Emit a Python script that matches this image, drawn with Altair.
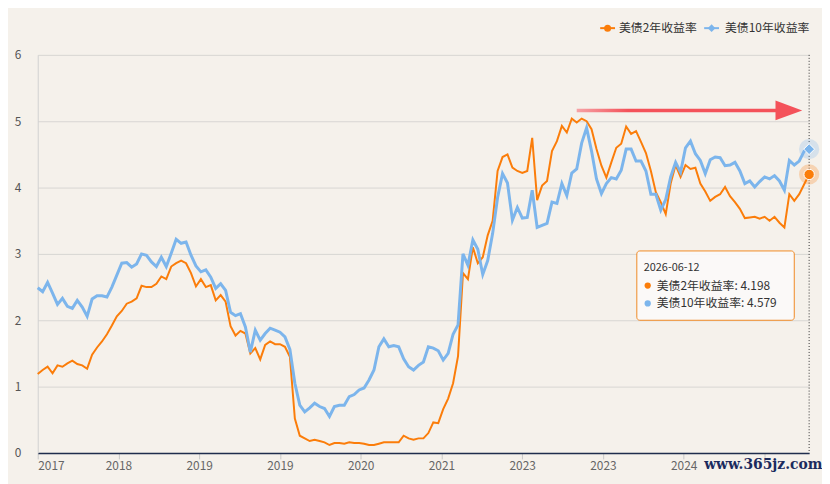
import altair as alt
import pandas as pd

# ---------------- data ----------------
x_labels = ["2017", "2018", "2019", "2019", "2020", "2021", "2023", "2023", "2024", ""]
series_names = ["美债2年收益率", "美债10年收益率"]
last_date = "2026-06-12"

us2y = [
    1.19, 1.25, 1.30, 1.20, 1.32, 1.30, 1.35, 1.39, 1.34, 1.32,
    1.27, 1.48, 1.59, 1.68, 1.79, 1.92, 2.06, 2.14, 2.25, 2.28,
    2.33, 2.52, 2.50, 2.50, 2.55, 2.66, 2.62, 2.81, 2.86, 2.90,
    2.86, 2.71, 2.51, 2.62, 2.50, 2.53, 2.30, 2.38, 2.28, 1.91,
    1.77, 1.84, 1.80, 1.50, 1.58, 1.41, 1.63, 1.68, 1.64, 1.64,
    1.60, 1.45, 0.52, 0.26, 0.22, 0.18, 0.20, 0.18, 0.16, 0.12,
    0.15, 0.15, 0.14, 0.16, 0.15, 0.15, 0.14, 0.12, 0.12, 0.14,
    0.16, 0.16, 0.16, 0.16, 0.26, 0.22, 0.20, 0.22, 0.22, 0.30,
    0.46, 0.45, 0.66, 0.82, 1.05, 1.46, 2.71, 2.62, 3.10, 2.86,
    2.95, 3.28, 3.50, 4.25, 4.46, 4.50, 4.30, 4.25, 4.22, 4.25,
    4.75, 3.81, 4.03, 4.10, 4.55, 4.70, 4.93, 4.83, 5.04, 4.98,
    5.04, 5.00, 4.88, 4.58, 4.33, 4.15, 4.38, 4.60, 4.66, 4.92,
    4.81, 4.85, 4.69, 4.52, 4.25, 3.93, 3.78, 3.60, 4.06, 4.34,
    4.16, 4.34, 4.28, 4.30, 4.06, 3.94, 3.80, 3.86, 3.90, 4.01,
    3.87, 3.78, 3.68, 3.54, 3.55, 3.56, 3.53, 3.56, 3.50, 3.56,
    3.47, 3.40, 3.90, 3.80, 3.90, 4.05, 4.198,
]

us10y = [
    2.49, 2.43, 2.57, 2.41, 2.24, 2.33, 2.21, 2.18, 2.30, 2.20,
    2.06, 2.32, 2.37, 2.37, 2.35, 2.50, 2.68, 2.86, 2.87, 2.80,
    2.85, 3.00, 2.98, 2.88, 2.81, 2.95, 2.81, 3.01, 3.22, 3.16,
    3.18, 2.98, 2.82, 2.73, 2.76, 2.65, 2.48, 2.55, 2.45, 2.12,
    2.07, 2.10, 1.90, 1.52, 1.85, 1.70, 1.80, 1.88, 1.85, 1.82,
    1.75, 1.56, 1.05, 0.72, 0.62, 0.68, 0.75, 0.70, 0.67, 0.55,
    0.70, 0.72, 0.72, 0.85, 0.88, 0.95, 0.98, 1.10, 1.25, 1.60,
    1.72, 1.60, 1.62, 1.60, 1.42, 1.30, 1.25, 1.32, 1.37, 1.60,
    1.58, 1.54, 1.40, 1.50, 1.79, 1.93, 3.00, 2.83, 3.21, 3.07,
    2.69, 2.90, 3.31, 3.85, 4.21, 4.07, 3.51, 3.70, 3.54, 3.55,
    3.96, 3.40, 3.43, 3.46, 3.78, 3.76, 4.06, 3.88, 4.22, 4.28,
    4.67, 4.90, 4.55, 4.13, 3.91, 4.06, 4.15, 4.13, 4.26, 4.58,
    4.58, 4.40, 4.40, 4.25, 3.90, 3.90, 3.66, 3.82, 4.16, 4.38,
    4.23, 4.60, 4.70, 4.51, 4.41, 4.21, 4.42, 4.46, 4.45, 4.33,
    4.34, 4.38, 4.25, 4.06, 4.10, 4.01, 4.09, 4.16, 4.13, 4.18,
    4.10, 3.96, 4.41, 4.34, 4.40, 4.55, 4.579,
]

# ---------------- styles ----------------
ORANGE = "#fb7d0a"
BLUE = "#7cb5ec"
BG = "#f5f1eb"
FONT = "Noto Sans CJK SC"
W, H = 779, 402
n = len(us2y)
tick_step = 16.33
tick_vals = [round(k * tick_step, 2) for k in range(len(x_labels))]
label_expr = "[" + ",".join("'%s'" % s for s in x_labels) + "][round(datum.value/%s)]" % tick_step

df = pd.DataFrame({
    "i": list(range(n)) * 2,
    "v": us2y + us10y,
    "s": [series_names[0]] * n + [series_names[1]] * n,
})
df2 = df[df.s == series_names[0]]
df10 = df[df.s == series_names[1]]
last2 = df2[df2.i == n - 1]
last10 = df10[df10.i == n - 1]

x_axis = alt.Axis(values=tick_vals, labelExpr=label_expr, grid=False, title=None,
                  domainColor="#1f2d4d", domainWidth=1.5, tickColor="#c8c8c8",
                  tickSize=6, labelColor="#666666", labelFontSize=12, labelPadding=2,
                  labelFont=FONT)
y_axis = alt.Axis(values=[0, 1, 2, 3, 4, 5, 6], grid=True, gridColor="#d8d6d2",
                  domainColor="#d0d0d0", ticks=False, labelPadding=17, title=None,
                  labelColor="#555555", labelFontSize=12, labelFont=FONT)
xs = alt.Scale(domain=[0, n - 1], nice=False, zero=False)
ys = alt.Scale(domain=[0, 6], nice=False, zero=True)


def X(f):
    return alt.X(f, type="quantitative", scale=xs, axis=x_axis)


def Y(f):
    return alt.Y(f, type="quantitative", scale=ys, axis=y_axis)


line2 = alt.Chart(df2).mark_line(color=ORANGE, strokeWidth=2).encode(x=X("i"), y=Y("v"))
line10 = alt.Chart(df10).mark_line(color=BLUE, strokeWidth=3).encode(x=X("i"), y=Y("v"))

crosshair = alt.Chart(last2).mark_rule(color="#333333", strokeWidth=1, strokeDash=[1, 2]).encode(
    x=X("i"), y=alt.value(0), y2=alt.value(H))

halo2 = alt.Chart(last2).mark_point(filled=True, shape="circle", size=420, color=ORANGE,
                                    opacity=0.25).encode(x=X("i"), y=Y("v"))
dot2 = alt.Chart(last2).mark_point(filled=True, shape="circle", size=110, fill=ORANGE,
                                   stroke="#ffffff", strokeWidth=1, opacity=1).encode(x=X("i"), y=Y("v"))
halo10 = alt.Chart(last10).mark_point(filled=True, shape="circle", size=420, color=BLUE,
                                      opacity=0.25).encode(x=X("i"), y=Y("v"))
dot10 = alt.Chart(last10).mark_point(filled=True, shape="diamond", size=120, fill=BLUE,
                                     stroke="#ffffff", strokeWidth=1, opacity=1).encode(x=X("i"), y=Y("v"))

# red arrow annotation (data space)
arrow_df = pd.DataFrame({"x0": [109.0], "x1": [150.5], "y0": [5.137], "y1": [5.187],
                         "xh": [151.9], "yh": [5.162]})
shaft = alt.Chart(arrow_df).mark_rect(
    fill=alt.LinearGradient(gradient="linear", x1=0, x2=1, y1=0, y2=0,
                            stops=[alt.GradientStop(color="#f6a3a6", offset=0),
                                   alt.GradientStop(color="#f4525a", offset=0.25),
                                   alt.GradientStop(color="#f4525a", offset=1)])
).encode(x=X("x0"), x2="x1", y=Y("y0"), y2="y1")
head = alt.Chart(arrow_df).mark_point(filled=True, shape="M-1,-0.74L1,0L-1,0.74Z", size=729,
                                      color="#f4525a", opacity=1).encode(x=X("xh"), y=Y("yh"))

# legend (top right)
leg_df = pd.DataFrame({"s": series_names})
leg2_line = alt.Chart(leg_df.iloc[[0]]).mark_rule(color=ORANGE, strokeWidth=2).encode(
    x=alt.value(568), x2=alt.value(583), y=alt.value(-27))
leg2_sym = alt.Chart(leg_df.iloc[[0]]).mark_point(filled=True, shape="circle", size=50,
                                                  color=ORANGE, opacity=1).encode(
    x=alt.value(575.5), y=alt.value(-27))
leg2_txt = alt.Chart(leg_df.iloc[[0]]).mark_text(align="left", baseline="middle", fontSize=12,
                                                 font=FONT, color="#333333").encode(
    x=alt.value(587), y=alt.value(-27), text="s:N")
leg10_line = alt.Chart(leg_df.iloc[[1]]).mark_rule(color=BLUE, strokeWidth=2).encode(
    x=alt.value(673), x2=alt.value(688), y=alt.value(-27))
leg10_sym = alt.Chart(leg_df.iloc[[1]]).mark_point(filled=True, shape="diamond", size=60,
                                                   color=BLUE, opacity=1).encode(
    x=alt.value(680.5), y=alt.value(-27))
leg10_txt = alt.Chart(leg_df.iloc[[1]]).mark_text(align="left", baseline="middle", fontSize=12,
                                                  font=FONT, color="#333333").encode(
    x=alt.value(694), y=alt.value(-27), text="s:N")

# tooltip box
tip_df = pd.DataFrame({
    "date": [last_date],
    "l2": ["%s: %s" % (series_names[0], format(us2y[-1], ".3f"))],
    "l10": ["%s: %s" % (series_names[1], format(us10y[-1], ".3f"))],
})
tip_box = alt.Chart(tip_df).mark_rect(fill="#fbfaf8", fillOpacity=0.92, stroke="#f08a24",
                                      strokeWidth=1, cornerRadius=3).encode(
    x=alt.value(605), x2=alt.value(764), y=alt.value(198), y2=alt.value(268))
tip_date = alt.Chart(tip_df).mark_text(align="left", baseline="middle", fontSize=11,
                                       font=FONT, color="#333333").encode(
    x=alt.value(612), y=alt.value(215), text="date:N")
tip_dot2 = alt.Chart(tip_df).mark_point(filled=True, shape="circle", size=40, color=ORANGE,
                                        opacity=1).encode(x=alt.value(616), y=alt.value(233))
tip_dot10 = alt.Chart(tip_df).mark_point(filled=True, shape="circle", size=40, color=BLUE,
                                         opacity=1).encode(x=alt.value(616), y=alt.value(251))
tip_t2 = alt.Chart(tip_df).mark_text(align="left", baseline="middle", fontSize=12,
                                     font=FONT, color="#333333").encode(
    x=alt.value(625), y=alt.value(233), text="l2:N")
tip_t10 = alt.Chart(tip_df).mark_text(align="left", baseline="middle", fontSize=12,
                                      font=FONT, color="#333333").encode(
    x=alt.value(625), y=alt.value(251), text="l10:N")

# watermark
wm_df = pd.DataFrame({"t": ["www.365jz.com"]})
watermark = alt.Chart(wm_df).mark_text(align="left", baseline="middle", fontSize=14,
                                       font="DejaVu Serif", fontWeight="bold",
                                       color="#1b2b5e").encode(
    x=alt.value(673), y=alt.value(414), text="t:N")

chart = alt.layer(
    line2, line10, crosshair, halo2, dot2, halo10, dot10, shaft, head,
    leg2_line, leg2_sym, leg2_txt, leg10_line, leg10_sym, leg10_txt,
    tip_box, tip_date, tip_dot2, tip_dot10, tip_t2, tip_t10, watermark,
).properties(
    width=W, height=H, background=BG,
    padding={"left": 30, "top": 45, "right": 13, "bottom": 29},
    autosize=alt.AutoSizeParams(type="none"),
).configure_view(stroke=None)

chart.save("out.html", embed_options={"renderer": "svg", "actions": False})
